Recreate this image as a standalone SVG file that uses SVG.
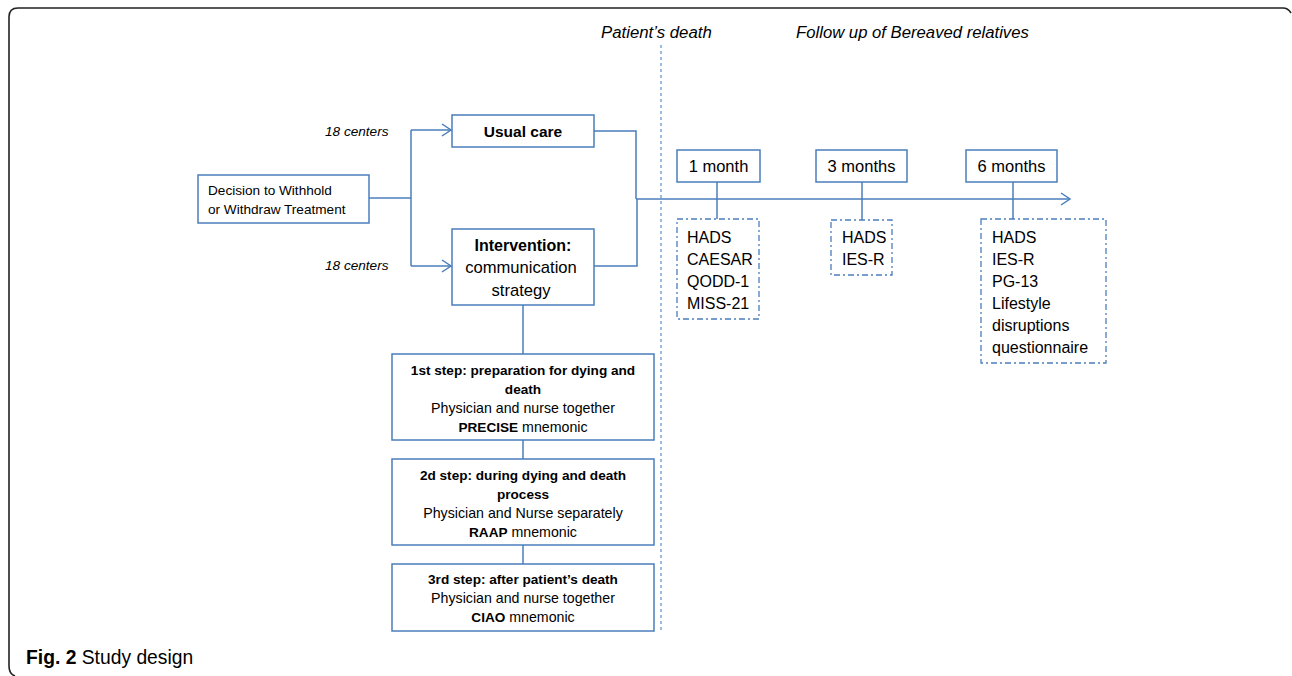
<svg xmlns="http://www.w3.org/2000/svg" width="1292" height="676" viewBox="0 0 1292 676">
<defs>
<style>
.box{fill:#fff;stroke:#4a7ebb;stroke-width:1.5}
.dbox{fill:#fff;stroke:#4a7ebb;stroke-width:1.3;stroke-dasharray:6 3 2 3}
.ln{fill:none;stroke:#4a7ebb;stroke-width:1.5}
.t{font-family:"Liberation Sans",Arial,sans-serif;fill:#000}
.it{font-style:italic}
.b{font-weight:bold}
.q{font-size:16px}
</style>
<marker id="arr" markerWidth="12" markerHeight="14" refX="10" refY="7" orient="auto" markerUnits="userSpaceOnUse">
<path d="M1,1 L10,7 L1,13" fill="none" stroke="#4a7ebb" stroke-width="1.5"/>
</marker>
</defs>
<rect width="1292" height="676" fill="#fff"/>
<path d="M15,676 Q9,674 9,666 V17 Q9,8 18,8 H1283 Q1288,8 1291,13" fill="none" stroke="#222" stroke-width="1.6"/>

<g id="connectors">
<path class="ln" d="M369,198 H411"/>
<path class="ln" d="M411,130 V266" />
<path class="ln" d="M411,130 H451" marker-end="url(#arr)"/>
<path class="ln" d="M411,266 H451" marker-end="url(#arr)"/>
<path class="ln" d="M594,131 H636 V199"/>
<path class="ln" d="M594,266 H637 V199"/>
<path class="ln" d="M636,199 H1070" marker-end="url(#arr)"/>
<path class="ln" d="M717,182 V219"/>
<path class="ln" d="M862,182 V220"/>
<path class="ln" d="M1013,182 V219"/>
<path class="ln" d="M523,305 V354"/>
<path class="ln" d="M523,440 V459"/>
<path class="ln" d="M523,545 V564"/>
<path d="M661,45 V632" fill="none" stroke="#5b8fd0" stroke-width="1.2" stroke-dasharray="3 3"/>
</g>

<g id="labels">
<text class="t it" x="601" y="38" font-size="16.8">Patient’s death</text>
<text class="t it" x="796" y="38" font-size="16.7">Follow up of Bereaved relatives</text>
<text class="t it" x="325" y="136" font-size="13.6" fill="#222">18 centers</text>
<text class="t it" x="325" y="270" font-size="13.6" fill="#222">18 centers</text>
</g>

<g id="decision">
<rect class="box" x="198" y="175" width="171" height="48"/>
<text class="t" x="208" y="195" font-size="13.6">Decision to Withhold</text>
<text class="t" x="208" y="214" font-size="13.6">or Withdraw Treatment</text>
</g>

<g id="usual-care">
<rect class="box" x="452" y="115" width="142" height="32"/>
<text class="t b" x="523" y="137" font-size="15.5" text-anchor="middle">Usual care</text>
</g>

<g id="intervention">
<rect class="box" x="452" y="229" width="142" height="76"/>
<text class="t b" x="523" y="251" font-size="16" text-anchor="middle">Intervention:</text>
<text class="t" x="521" y="273" font-size="16.6" text-anchor="middle">communication</text>
<text class="t" x="521" y="296" font-size="16.6" text-anchor="middle">strategy</text>
</g>

<g id="step1">
<rect class="box" x="392" y="354" width="262" height="86"/>
<text class="t b" x="523" y="375" font-size="13.6" text-anchor="middle">1st step: preparation for dying and</text>
<text class="t b" x="523" y="394" font-size="13.6" text-anchor="middle">death</text>
<text class="t" x="523" y="413" font-size="14.2" text-anchor="middle">Physician and nurse together</text>
<text class="t" x="523" y="432" font-size="14.2" text-anchor="middle"><tspan class="b" font-size="13.6">PRECISE</tspan> mnemonic</text>
</g>

<g id="step2">
<rect class="box" x="392" y="459" width="262" height="86"/>
<text class="t b" x="523" y="480" font-size="13.6" text-anchor="middle">2d step: during dying and death</text>
<text class="t b" x="523" y="499" font-size="13.6" text-anchor="middle">process</text>
<text class="t" x="523" y="518" font-size="14.2" text-anchor="middle">Physician and Nurse separately</text>
<text class="t" x="523" y="537" font-size="14.2" text-anchor="middle"><tspan class="b" font-size="13.6">RAAP</tspan> mnemonic</text>
</g>

<g id="step3">
<rect class="box" x="392" y="564" width="262" height="67"/>
<text class="t b" x="523" y="584" font-size="13.6" text-anchor="middle">3rd step: after patient’s death</text>
<text class="t" x="523" y="603" font-size="14.2" text-anchor="middle">Physician and nurse together</text>
<text class="t" x="523" y="622" font-size="14.2" text-anchor="middle"><tspan class="b" font-size="13.6">CIAO</tspan> mnemonic</text>
</g>

<g id="m1">
<rect class="box" x="677" y="150" width="83" height="32"/>
<text class="t" x="718.5" y="172" font-size="16.5" text-anchor="middle">1 month</text>
</g>
<g id="m3">
<rect class="box" x="816" y="150" width="91" height="32"/>
<text class="t" x="861.5" y="172" font-size="16.5" text-anchor="middle">3 months</text>
</g>
<g id="m6">
<rect class="box" x="966" y="150" width="91" height="32"/>
<text class="t" x="1011.5" y="172" font-size="16.5" text-anchor="middle">6 months</text>
</g>

<g id="q1">
<rect class="dbox" x="677" y="219" width="82" height="100"/>
<text class="t q" x="687"><tspan x="687" y="243">HADS</tspan><tspan x="687" y="265">CAESAR</tspan><tspan x="687" y="287">QODD-1</tspan><tspan x="687" y="309">MISS-21</tspan></text>
</g>
<g id="q3">
<rect class="dbox" x="831" y="220" width="61" height="55"/>
<text class="t q" x="842"><tspan x="842" y="243">HADS</tspan><tspan x="842" y="265">IES-R</tspan></text>
</g>
<g id="q6">
<rect class="dbox" x="981" y="219" width="125" height="144"/>
<text class="t q" x="992"><tspan x="992" y="243">HADS</tspan><tspan x="992" y="265">IES-R</tspan><tspan x="992" y="287">PG-13</tspan><tspan x="992" y="309">Lifestyle</tspan><tspan x="992" y="331">disruptions</tspan><tspan x="992" y="353">questionnaire</tspan></text>
</g>

<g id="caption">
<text class="t" x="26" y="664" font-size="19.3" fill="#231f20"><tspan class="b">Fig. 2</tspan> Study design</text>
</g>
</svg>
